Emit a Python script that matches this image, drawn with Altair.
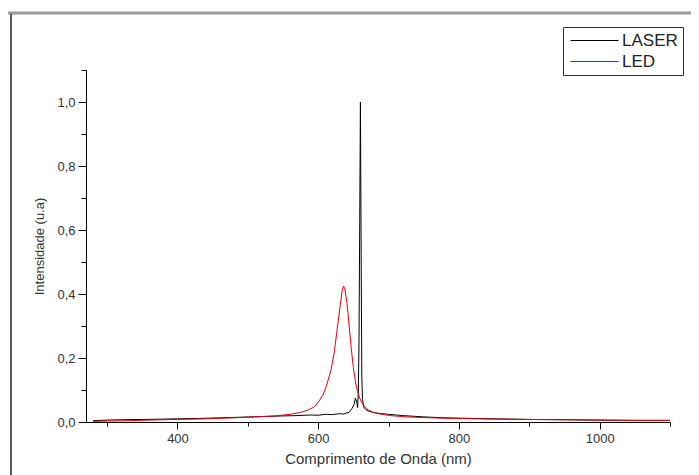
import altair as alt
import pandas as pd

# LASER spectrum (black)
laser_nm = [280, 300, 320, 350, 380, 400, 430, 460, 490, 520, 550, 570, 590, 600, 610,
            620, 630, 636, 640, 644, 648, 651, 653, 655, 656, 657, 658, 659, 660, 661,
            662, 663, 665, 668, 672, 678, 686, 700, 720, 750, 780, 800, 850, 900, 950,
            1000, 1050, 1100]
laser_val = [0.004, 0.006, 0.007, 0.008, 0.009, 0.010, 0.011, 0.013, 0.015, 0.017, 0.019, 0.020,
             0.022, 0.021, 0.024, 0.023, 0.026, 0.025, 0.028, 0.030, 0.042, 0.055, 0.075, 0.06,
             0.045, 0.09, 0.25, 0.62, 1.0, 0.55, 0.14, 0.07, 0.045, 0.038, 0.034, 0.03,
             0.027, 0.024, 0.02, 0.016, 0.013, 0.012, 0.01, 0.008, 0.007, 0.006, 0.005, 0.005]

# LED spectrum (red)
led_nm = [280, 300, 330, 360, 400, 440, 480, 510, 540, 560, 575, 585, 595, 601, 607,
          612, 618, 623, 627, 631, 634, 636, 638, 641, 644, 647, 650, 653, 656, 659,
          662, 666, 671, 678, 688, 703, 725, 760, 800, 850, 900, 950, 1000, 1050, 1100]
led_val = [0.002, 0.003, 0.004, 0.006, 0.008, 0.010, 0.013, 0.016, 0.019, 0.024, 0.030, 0.037,
           0.048, 0.065, 0.085, 0.115, 0.16, 0.22, 0.29, 0.36, 0.41, 0.425, 0.415, 0.37, 0.30,
           0.23, 0.17, 0.125, 0.095, 0.075, 0.06, 0.048, 0.038, 0.03, 0.025, 0.02, 0.016,
           0.013, 0.011, 0.009, 0.008, 0.007, 0.006, 0.005, 0.005]

series_names = ["LASER", "LED"]
series_colors = ["#000000", "#e3000f"]

x_ticks = [300, 400, 500, 600, 700, 800, 900, 1000, 1100]
y_ticks = [0.0, 0.1, 0.2, 0.3, 0.4, 0.5, 0.6, 0.7, 0.8, 0.9, 1.0, 1.1]

df = pd.concat([
    pd.DataFrame({"nm": laser_nm, "val": laser_val, "serie": "LASER", "order": range(len(laser_nm))}),
    pd.DataFrame({"nm": led_nm, "val": led_val, "serie": "LED", "order": range(len(led_nm))}),
])

FONT = "Liberation Sans"

x_axis = alt.Axis(
    values=x_ticks,
    labelExpr="datum.value % 200 == 0 ? datum.value : ''",
    tickSize={"condition": {"test": "datum.value % 200 == 0", "value": 7}, "value": 4},
    title="Comprimento de Onda (nm)",
    titleFontSize=15, titleFont=FONT, titleFontWeight="normal", titleColor="#333",
    titlePadding=6,
    labelFontSize=13, labelFont=FONT, labelColor="#333", labelPadding=3,
    domainColor="#000", tickColor="#000", grid=False, labelFlush=False,
)
y_axis = alt.Axis(
    values=y_ticks,
    labelExpr="round(datum.value*10) % 2 == 0 ? replace(format(datum.value, '.1f'), '.', ',') : ''",
    tickSize={"condition": {"test": "round(datum.value*10) % 2 == 0", "value": 8}, "value": 5},
    title="Intensidade (u.a)",
    titleFontSize=13, titleFont=FONT, titleFontWeight="normal", titleColor="#333",
    titlePadding=10,
    labelFontSize=13, labelFont=FONT, labelColor="#333", labelPadding=3,
    domainColor="#000", tickColor="#000", grid=False, labelFlush=False,
)

lines = alt.Chart(df).mark_line(strokeWidth=1, clip=True).encode(
    x=alt.X("nm:Q", scale=alt.Scale(domain=[270, 1100], nice=False, zero=False), axis=x_axis),
    y=alt.Y("val:Q", scale=alt.Scale(domain=[0, 1.1], nice=False), axis=y_axis),
    color=alt.Color("serie:N", scale=alt.Scale(domain=series_names, range=series_colors),
                    legend=alt.Legend(title=None, orient="none", legendX=477, legendY=-43,
                                      symbolType="M-1,0H7", symbolSize=144, symbolStrokeWidth=1,
                                      labelFontSize=17, labelFont=FONT, labelColor="#222",
                                      strokeColor="#333", fillColor="white", padding=5,
                                      labelOffset=37, rowPadding=3)),
    order="order:Q",
)

frame_data = alt.Data(values=[{}])
top_border = alt.Chart(frame_data).mark_rule(color="#9a9a9a", strokeWidth=3).encode(
    x=alt.value(-78), x2=alt.value(610), y=alt.value(-57))
left_border = alt.Chart(frame_data).mark_rule(color="#222", strokeWidth=1.5).encode(
    x=alt.value(-75), y=alt.value(-56), y2=alt.value(420))

chart = alt.layer(top_border, left_border, lines).properties(
    width=584, height=352,
    padding={"left": 78, "top": 62, "right": 21, "bottom": 53},
    autosize=alt.AutoSizeParams(type="none"),
    background="white",
).configure_view(stroke=None)

chart.save("out.html", embed_options={"renderer": "svg", "actions": False})
